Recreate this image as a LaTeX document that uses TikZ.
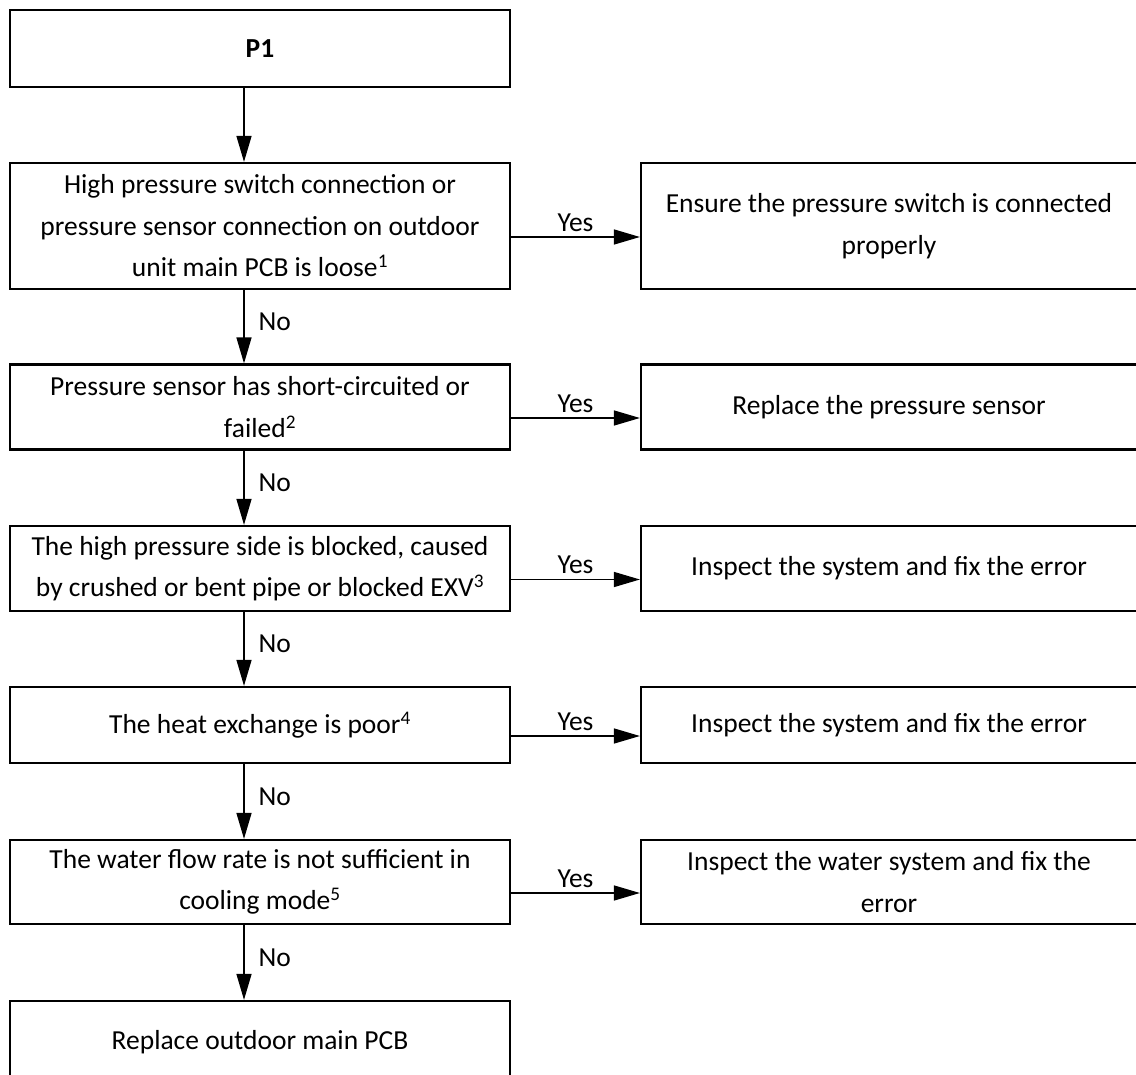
\documentclass[tikz,border=0pt]{standalone}
\usepackage{fontspec}
\setmainfont{Carlito}
\usetikzlibrary{arrows.meta}
\begin{document}
\begin{tikzpicture}[x=1pt,y=-1pt,
  box/.style={draw, line width=2.2pt, rectangle, inner sep=0pt, align=center, font=\fontsize{27.5}{41.5}\selectfont},
  lbox/.style={box, minimum width=500pt},
  rbox/.style={box, minimum width=496pt},
  arr/.style={line width=1.4pt, -{Triangle[length=26pt,width=15pt]}},
  yeslab/.style={font=\fontsize{27.5}{33}\selectfont, inner sep=0pt, anchor=south, yshift=5pt},
  nolab/.style={font=\fontsize{27.5}{33}\selectfont, inner sep=0pt, anchor=west, xshift=14pt, yshift=5pt}]
\clip (0,0) rectangle (1136,1075);
\fill[white] (0,0) rectangle (1136,1075);
\coordinate (ax) at (244,0);

\node[lbox, minimum height=77pt] (p1) at (260,48.5) {\textbf{P1}};
\node[lbox, minimum height=126pt] (b1) at (260,226) {High pressure switch connection or\\pressure sensor connection on outdoor\\unit main PCB is loose\textsuperscript{1}};
\node[lbox, minimum height=85pt] (b2) at (260,407) {Pressure sensor has short-circuited or\\failed\textsuperscript{2}};
\node[lbox, minimum height=85pt] (b3) at (260,568.5) {The high pressure side is blocked, caused\\by crushed or bent pipe or blocked EXV\textsuperscript{3}};
\node[lbox, minimum height=76pt] (b4) at (260,725) {The heat exchange is poor\textsuperscript{4}};
\node[lbox, minimum height=84pt] (b5) at (260,882) {The water flow rate is not sufficient in\\cooling mode\textsuperscript{5}};
\node[lbox, minimum height=82pt] (b6) at (260,1042) {Replace outdoor main PCB};

\node[rbox, minimum height=126pt] (r1) at (889,226) {Ensure the pressure switch is connected\\properly};
\node[rbox, minimum height=85pt] (r2) at (889,407) {Replace the pressure sensor};
\node[rbox, minimum height=85pt] (r3) at (889,568.5) {Inspect the system and fix the error};
\node[rbox, minimum height=76pt] (r4) at (889,725) {Inspect the system and fix the error};
\node[rbox, minimum height=84pt] (r5) at (889,882) {Inspect the water system and fix the\\error};

\draw[arr] (p1.south -| ax) -- (b1.north -| ax);
\draw[arr] (b1.south -| ax) -- node[nolab, pos=0.5] {No} (b2.north -| ax);
\draw[arr] (b2.south -| ax) -- node[nolab, pos=0.5] {No} (b3.north -| ax);
\draw[arr] (b3.south -| ax) -- node[nolab, pos=0.5] {No} (b4.north -| ax);
\draw[arr] (b4.south -| ax) -- node[nolab, pos=0.5] {No} (b5.north -| ax);
\draw[arr] (b5.south -| ax) -- node[nolab, pos=0.5] {No} (b6.north -| ax);

\draw[arr] ([yshift=-11pt]b1.east) -- node[yeslab, pos=0.5] {Yes} ([yshift=-11pt]r1.west);
\draw[arr] ([yshift=-11pt]b2.east) -- node[yeslab, pos=0.5] {Yes} ([yshift=-11pt]r2.west);
\draw[arr] ([yshift=-11pt]b3.east) -- node[yeslab, pos=0.5] {Yes} ([yshift=-11pt]r3.west);
\draw[arr] ([yshift=-11pt]b4.east) -- node[yeslab, pos=0.5] {Yes} ([yshift=-11pt]r4.west);
\draw[arr] ([yshift=-11pt]b5.east) -- node[yeslab, pos=0.5] {Yes} ([yshift=-11pt]r5.west);
\end{tikzpicture}
\end{document}
